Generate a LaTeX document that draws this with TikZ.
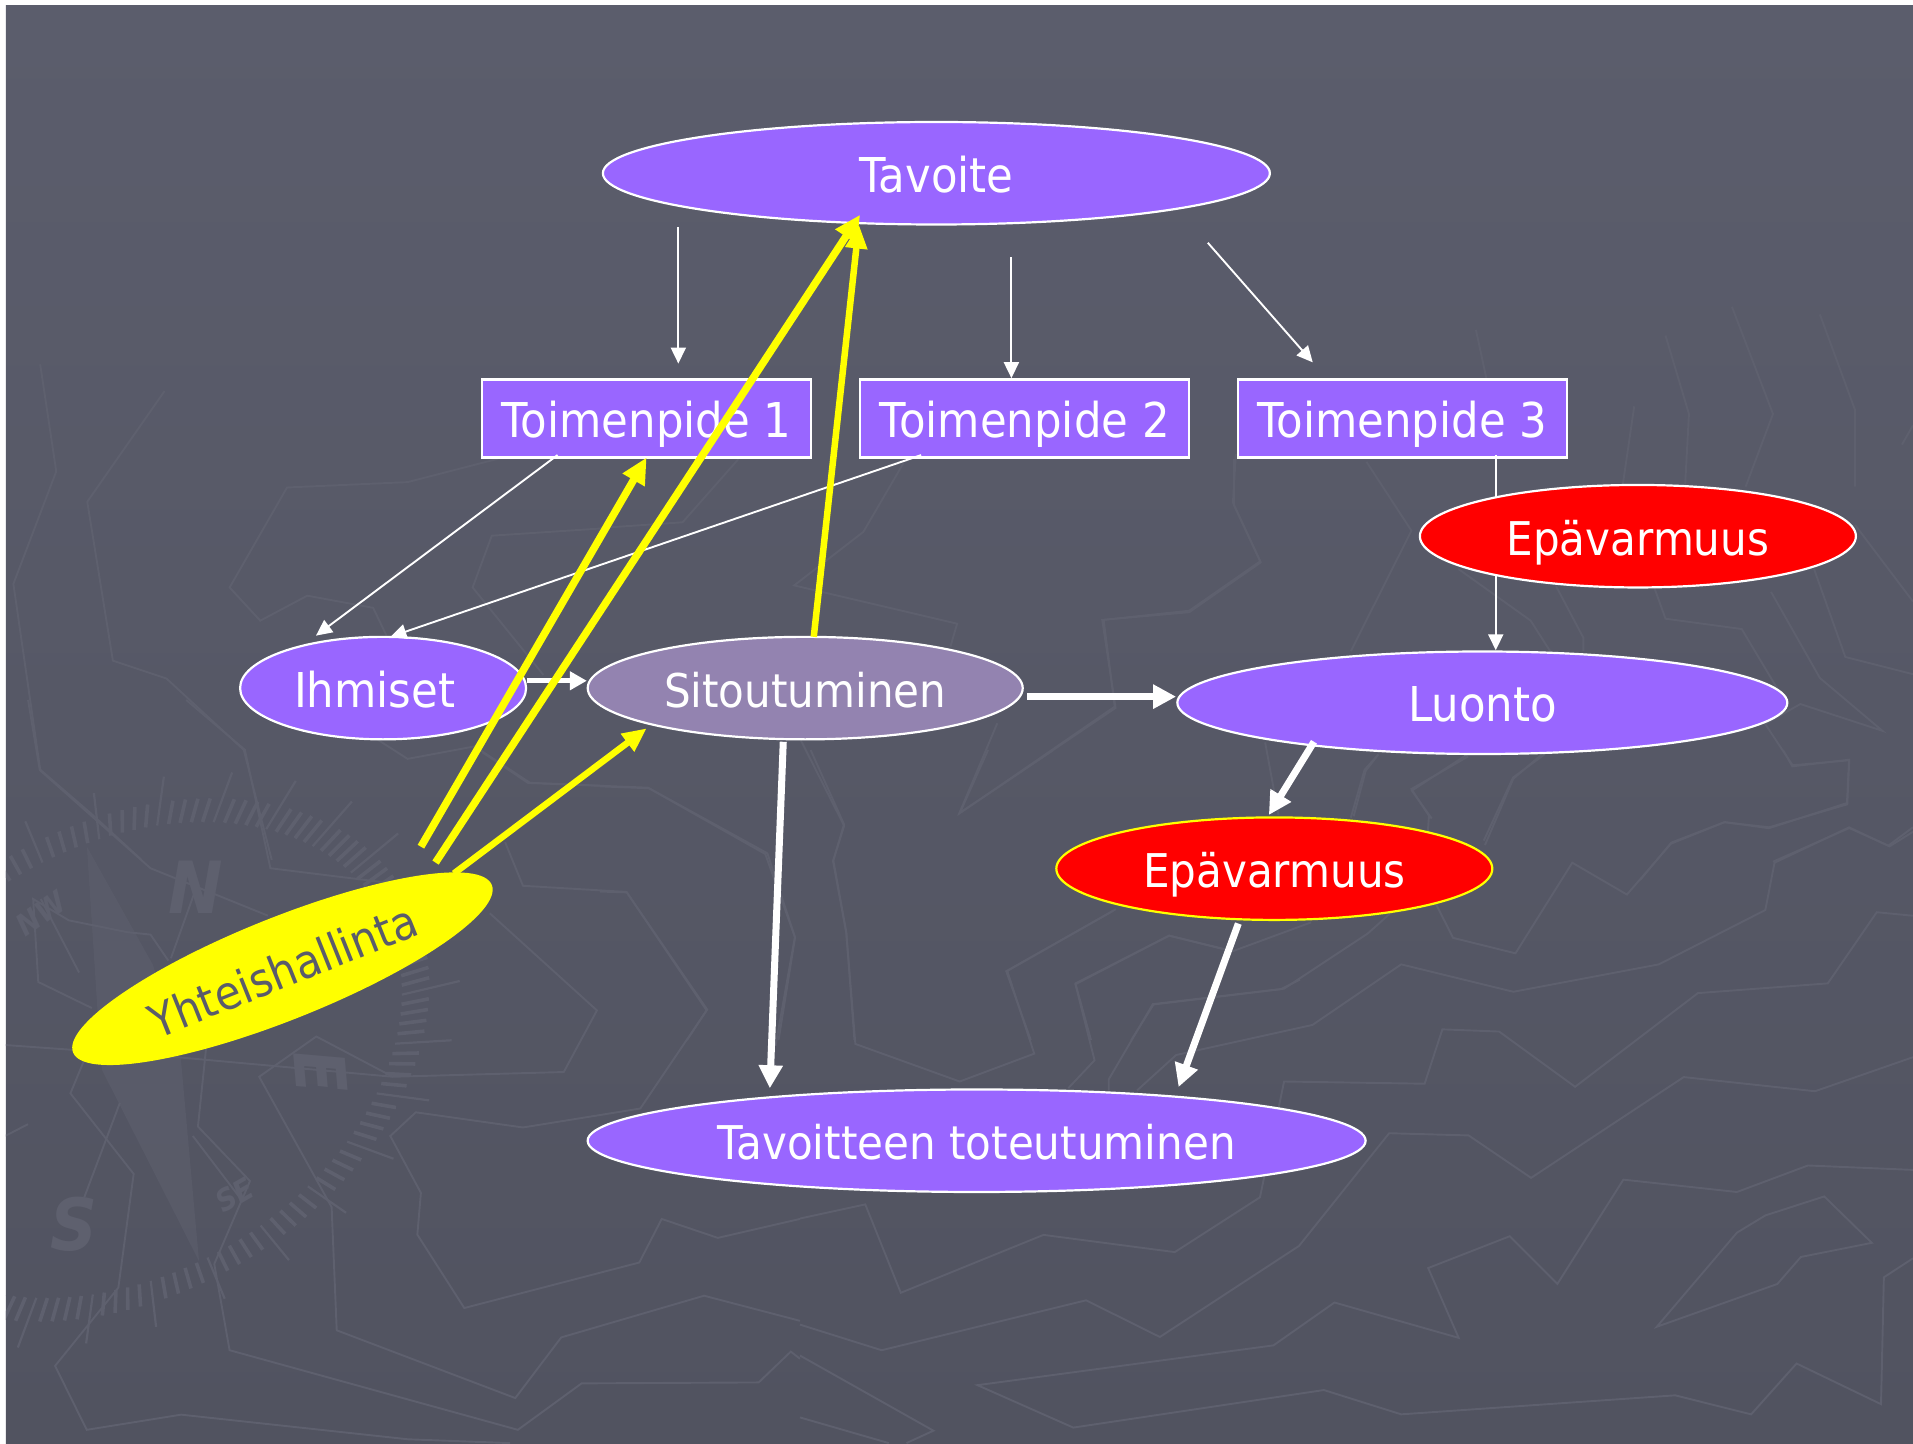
\documentclass[tikz,border=0pt]{standalone}
\usepackage{fontspec}
\setmainfont{DejaVu Sans}[FakeStretch=0.905]
\usetikzlibrary{arrows.meta,shapes.geometric}
\definecolor{bgtop}{HTML}{5B5D6C}
\definecolor{bgbot}{HTML}{515360}
\definecolor{mapline}{HTML}{5E606E}
\definecolor{purp}{HTML}{9966FF}
\definecolor{sit}{HTML}{9383B0}
\definecolor{dtext}{HTML}{5A5C6B}
\definecolor{yel}{RGB}{255,255,0}
\definecolor{rd}{RGB}{255,0,0}
\tikzset{
  lbl/.style={font=\fontsize{48}{50}\selectfont,text=white,inner sep=0pt,text height=39pt,text depth=1pt,align=center},
  smaller/.style={font=\fontsize{46.5}{50}\selectfont},
  ell/.style={lbl,ellipse,draw=white,line width=2.2pt,minimum width=#1},
  ell/.default=300pt,
  box/.style={lbl,rectangle,draw=white,line width=2.2pt,fill=purp,minimum width=329pt,minimum height=78pt},
  thin arrow/.style={draw=white,line width=1.9pt,-{Triangle[length=16pt,width=15pt]}},
  mid arrow/.style={draw=white,line width=5pt,-{Triangle[length=17pt,width=18pt]}},
  wide arrow/.style={draw=white,line width=7pt,-{Triangle[length=23pt,width=23pt]}},
  yel arrow/.style={draw=yel,line width=7.5pt,-{Triangle[length=26pt,width=24pt]}},
  yel small/.style={draw=yel,line width=6.5pt,-{Triangle[length=24pt,width=21pt]}},
  mapl/.style={draw=mapline,line width=1.9pt,line join=miter},
  faintt/.style={text=mapline,inner sep=0pt,font=\fontsize{#1}{#1}\selectfont\bfseries\itshape},
}
\begin{document}
\begin{tikzpicture}[x=1.22003pt,y=-1.22003pt]
\useasboundingbox (0,0) rectangle (1568,1182.8);
\fill[white] (0,0) rectangle (1568,1182.8);
\shade[top color=bgtop,bottom color=bgbot] (4.9,4.9) rectangle (1568,1182.8);
\begin{scope}
\clip (4.9,4.9) rectangle (1568,1182.8);
% --- compass ---
\begin{scope}[shift={(125pt,-1060pt)},rotate=31,x=1pt,y=1pt]
 \foreach \i in {0,...,149}{
  \pgfmathsetmacro{\a}{\i*2.4}
  \pgfmathtruncatemacro{\m}{mod(\i,5)}
  \ifnum\m=0
   \draw[mapline,line width=2.2pt] ({326*.91*cos(\a)},{234*.91*sin(\a)}) -- ({326*1.1*cos(\a)},{234*1.1*sin(\a)});
  \else
   \draw[mapline,line width=3.6pt] ({326*.91*cos(\a)},{234*.91*sin(\a)}) -- ({326*cos(\a)},{234*sin(\a)});
  \fi
 }
\end{scope}
\fill[mapline,opacity=.55] (87pt,-847pt) -- (153pt,-965pt) -- (181pt,-1060pt) -- (199pt,-1261pt) -- (102pt,-1070pt) -- (97pt,-1003pt) -- cycle;
\node[faintt=72] (cN) at (196pt,-887pt) {N};
\node[faintt=72] (cS) at (74pt,-1224pt) {S};
\node[faintt=30,rotate=35] (cNW) at (41pt,-913pt) {NW};
\node[faintt=30,rotate=30] (cSE) at (235pt,-1195pt) {SE};
\node[faintt=70,rotate=-85] (cE) at (321pt,-1072pt) {E};
% --- map lines: zoom 1 ---
\begin{scope}[shift={(0pt,-700pt)},x=.5102pt,y=-.4739pt]
 \draw[mapl] (55,0)--(78,148)--(295,355)--(525,455);
 \draw[mapl] (365,0)--(480,105)--(530,355)--(755,385);
 \draw[mapl] (945,110)--(1035,175)--(1270,185)--(1500,325)--(1558,500)--(1520,730);
 \draw[mapl] (990,300)--(1025,392)--(1228,405)--(1385,655)--(1255,862)--(1025,902)--(815,870)--(765,920)--(825,1040)--(818,1128)--(910,1283)--(1253,1187)--(1297,1095)--(1407,1135)--(1568,1095);
 \draw[mapl] (960,450)--(1170,655)--(1105,785)--(770,795)--(620,710)--(508,795)--(650,1070)--(660,1330)--(1010,1473)--(1100,1345)--(1380,1257)--(1568,1310);
 \draw[mapl] (10,728)--(360,755)--(770,795);
 \draw[mapl] (180,650)--(75,595)--(65,420)--(135,465)--(250,490)--(295,495)--(330,550);
 \draw[mapl] (235,850)--(165,1050);
 \draw[mapl] (165,760)--(138,830)--(262,1000)--(232,1240)--(108,1405)--(170,1540)--(355,1508)--(800,1560)--(1000,1568);
 \draw[mapl] (420,1190)--(450,1372)--(1015,1540)--(1140,1442)--(1487,1440)--(1550,1375)--(1568,1390);
 \draw[mapl] (415,620)--(388,900)--(490,1015)--(420,1190);
 \draw[mapl] (10,920)--(55,895);
 \draw[mapl] (80,420)--(155,575);
 \draw[mapl] (378,920)--(470,1050);
 \draw[mapl] (380,410)--(335,545);
\end{scope}
% --- zoom 4 ---
\begin{scope}[shift={(800pt,-750pt)},x=.7098pt,y=-.442pt]
 \draw[mapl] (0,1060)--(92,1028)--(142,1228)--(343,1097)--(528,1136)--(648,1012)--(682,750)--(880,755)--(905,632)--(985,637)--(1092,762)--(1265,550)--(1448,528)--(1517,367)--(1568,375);
 \draw[mapl] (0,1300)--(115,1358)--(403,1245)--(507,1328)--(703,1122)--(830,867)--(942,872)--(1030,968)--(1245,740)--(1430,772)--(1568,695);
 \draw[mapl] (1568,1150)--(1527,1193)--(1523,1480)--(1404,1388)--(1340,1503)--(1233,1460)--(847,1503)--(738,1448)--(385,1533)--(250,1437)--(667,1347)--(753,1250)--(928,1330)--(885,1172)--(1000,1100)--(1067,1208)--(1160,972)--(1320,1000)--(1420,940)--(1568,950);
 \draw[mapl] (1207,1305)--(1320,1092)--(1360,1053)--(1443,1010)--(1510,1115)--(1410,1147)--(1377,1208)--cycle;
 \draw[mapl] (0,1370)--(188,1540)--(150,1568);
 \draw[mapl] (0,1510)--(125,1568);
 \draw[mapl] (378,765)--(415,702)--(388,530)--(520,420)--(610,455)--(720,390);
 \draw[mapl] (435,770)--(435,745)--(497,575)--(682,540)--(800,415)--(880,300);
 \draw[mapl] (475,770)--(530,690)--(722,622)--(847,485)--(1005,547)--(1210,485)--(1360,362)--(1373,255)--(1478,175)--(1535,218)--(1568,185);
 \draw[mapl] (265,0)--(225,143)--(357,0);
 \draw[mapl] (15,0)--(62,168)--(47,250)--(65,410)--(78,665)--(225,750)--(330,687)--(292,500)--(445,360);
 \draw[mapl] (895,345)--(920,425)--(1008,460)--(1088,255)--(1165,327)--(1227,212)--(1303,163)--(1365,177)--(1475,120)--(1478,22)--(1398,37)--(1385,0);
 \draw[mapl] (780,150)--(797,47)--(815,10);
 \draw[mapl] (965,215)--(1005,65)--(1045,10);
 \draw[mapl] (890,155)--(862,92)--(940,10);
\end{scope}
% --- zoom 5 ---
\begin{scope}[shift={(0pt,-300pt)},x=.3827pt,y=-.3571pt]
 \draw[mapl] (105,180)--(147,480)--(35,795)--(105,1315)--(240,1440)--(370,1568);
 \draw[mapl] (430,255)--(228,565)--(295,1010)--(435,1060)--(637,1260)--(710,1568);
 \draw[mapl] (1300,445)--(1065,510)--(750,525)--(600,805)--(680,898)--(803,828)--(975,862)--(1010,940);
 \draw[mapl] (985,1230)--(1065,1285)--(1240,1250)--(1385,1352)--(1568,1360);
 \draw[mapl] (1568,640)--(1285,660)--(1235,805)--(1420,1050);
\end{scope}
% --- zoom 6 ---
\begin{scope}[shift={(1300pt,-280pt)},x=.3909pt,y=-.3827pt]
 \draw[mapl] (1105,70)--(1210,350)--(1140,540);
 \draw[mapl] (1330,90)--(1420,340)--(1420,540);
 \draw[mapl] (935,145)--(995,350)--(985,540);
 \draw[mapl] (855,330)--(825,540);
 \draw[mapl] (450,130)--(490,320);
 \draw[mapl] (1540,430)--(1568,380);
 \draw[mapl] (170,475)--(285,655)--(130,970);
 \draw[mapl] (405,755)--(590,890)--(640,970);
 \draw[mapl] (1420,640)--(1568,840);
 \draw[mapl] (655,800)--(725,935)--(725,970);
 \draw[mapl] (905,800)--(935,885)--(1130,912)--(1240,1100);
 \draw[mapl] (1205,815)--(1330,1040)--(1490,1178)--(1280,1108)--(1190,1160)--(1260,1268)--(1405,1255)--(1400,1370)--(1200,1430)--(1085,1417)--(950,1470)--(870,1568);
 \draw[mapl] (1315,755)--(1395,985)--(1568,1030);
 \draw[mapl] (430,1245)--(285,1330)--(330,1400)--(325,1468);
 \draw[mapl] (200,1240)--(165,1280)--(130,1405);
 \draw[mapl] (625,1240)--(545,1300)--(470,1465);
 \draw[mapl] (1210,1520)--(1405,1432)--(1505,1478)--(1568,1430);
\end{scope}
% --- zoom 7 ---
\begin{scope}[shift={(600pt,-440pt)},x=.4464pt,y=-.3827pt]
 \draw[mapl] (680,60)--(590,240)--(435,380)--(800,480)--(785,540);
 \draw[mapl] (310,50)--(185,215)--(0,230);
 \draw[mapl] (450,785)--(547,1008)--(522,1100)--(552,1290)--(570,1568);
 \draw[mapl] (0,905)--(110,910)--(375,1080)--(437,1300)--(400,1568);
 \draw[mapl] (0,1180)--(60,1182)--(240,1488)--(195,1568);
 \draw[mapl] (890,740)--(805,975)--(1155,700)--(1125,470)--(1320,450)--(1480,320)--(1420,170)--(1420,50);
 \draw[mapl] (1490,790)--(1520,980);
 \draw[mapl] (1150,1230)--(910,1388)--(965,1568);
 \draw[mapl] (1395,1330)--(1275,1295)--(1065,1420)--(1100,1568);
 \draw[mapl] (1190,1568)--(1240,1475)--(1525,1435)--(1568,1410);
\end{scope}
% --- zoom 3 ---
\begin{scope}[shift={(1000pt,0pt)},x=.5823pt,y=-.5102pt]
 \draw[mapl] (405,890)--(400,985)--(447,1100)--(325,1197)--(178,1215)--(197,1385)--(0,1540);
\end{scope}
\end{scope}

% --- connector ends ---
\coordinate (e1a) at (556,186);  \coordinate (e1b) at (556,298);
\coordinate (e2a) at (829,211);  \coordinate (e2b) at (829,310);
\coordinate (e3a) at (990,199);  \coordinate (e3b) at (1076,297);
\coordinate (e4a) at (1226,373); \coordinate (e4b) at (1226,533);
\coordinate (e5a) at (457,373);  \coordinate (e5b) at (259,521);
\coordinate (e6a) at (755,373);  \coordinate (e6b) at (320,522);
\coordinate (e7a) at (432,558);  \coordinate (e7b) at (481,558);
\coordinate (e8a) at (842,571);  \coordinate (e8b) at (964,571);
\coordinate (e9a) at (1077,608); \coordinate (e9b) at (1040,668);
\coordinate (e10a) at (1015,757);\coordinate (e10b) at (966,891);
\coordinate (e11a) at (642,608); \coordinate (e11b) at (631,892);
\coordinate (y1a) at (345,694);  \coordinate (y1b) at (530,375);
\coordinate (y2a) at (357,707);  \coordinate (y2b) at (705,176);
\coordinate (y3a) at (667,522);  \coordinate (y3b) at (704,184);
\coordinate (y4a) at (372,716);  \coordinate (y4b) at (530,597);

% --- nodes ---
\node[ell=667pt,minimum height=102.5pt,fill=purp] (tav) at (767.5,142) {Tavoite};
\node[box] (t1) at (530,343) {Toimenpide 1};
\node[box] (t2) at (840,343) {Toimenpide 2};
\node[box] (t3) at (1149.5,343) {Toimenpide 3};
\node[ell=286pt,minimum height=102.5pt,fill=purp] (ihm) at (314,564) {Ihmiset\hspace*{17pt}};
\node[ell=435pt,minimum height=102.5pt,fill=sit,smaller] (sito) at (660,564) {Sitoutuminen};
\node[ell=610pt,minimum height=102.5pt,fill=purp] (luo) at (1215,576) {Luonto};
\node[ell=436pt,minimum height=102.5pt,fill=rd,draw=yel,smaller] (epa2) at (1044.5,712) {Epävarmuus};
\node[ell=778pt,minimum height=102.5pt,fill=purp,smaller] (tot) at (800.5,935) {Tavoitteen toteutuminen};
\node[ell=451pt,minimum height=102.5pt,fill=yel,draw=none,text=dtext,rotate=21.8,smaller] (yht) at (231.5,794) {Yhteishallinta};

% --- connectors ---
\draw[thin arrow] (e1a) -- (e1b);
\draw[thin arrow] (e2a) -- (e2b);
\draw[thin arrow] (e3a) -- (e3b);
\draw[thin arrow] (e4a) -- (e4b);
\draw[thin arrow] (e5a) -- (e5b);
\draw[thin arrow] (e6a) -- (e6b);
\draw[mid arrow] (e7a) -- (e7b);
\draw[wide arrow] (e8a) -- (e8b);
\draw[wide arrow] (e9a) -- (e9b);
\draw[wide arrow] (e10a) -- (e10b);
\draw[wide arrow] (e11a) -- (e11b);
\draw[yel arrow] (y1a) -- (y1b);
\draw[yel arrow] (y2a) -- (y2b);
\draw[yel small] (y3a) -- (y3b);
\draw[yel small] (y4a) -- (y4b);
\node[ell=436pt,minimum height=102.5pt,fill=rd,smaller] (epa1) at (1342.5,439.5) {Epävarmuus};
\end{tikzpicture}
\end{document}
